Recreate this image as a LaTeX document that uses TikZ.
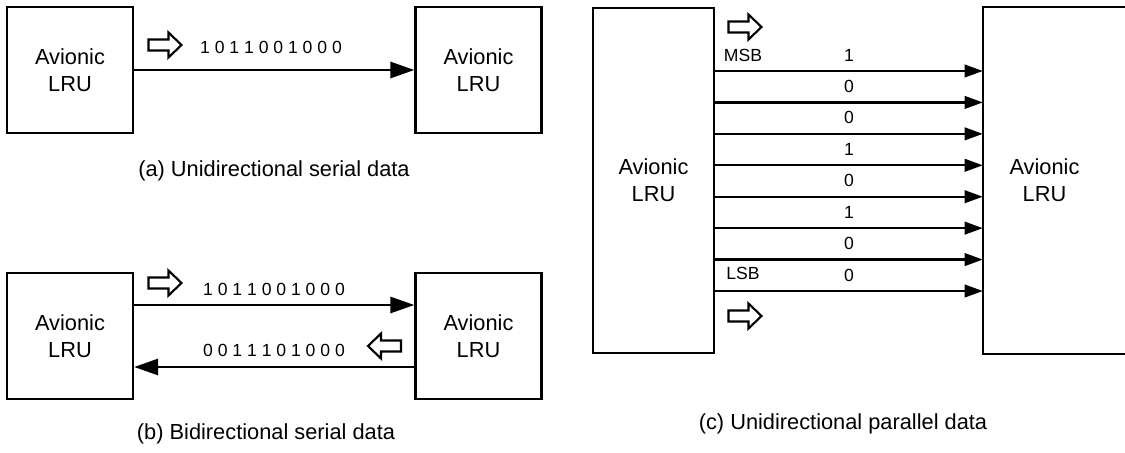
\documentclass[tikz,border=0pt]{standalone}
\usepackage{fontspec}
\setmainfont{Liberation Sans}
\usetikzlibrary{arrows.meta}

\tikzset{
    lru/.style={draw, line width=1.7pt, align=center, inner sep=0pt,
        font=\fontsize{15.5}{19}\selectfont},
    serial/.style={line width=1.6pt, -{Triangle[length=17pt, width=11.5pt]}},
    bus/.style={line width=1.6pt, -{Triangle[length=13pt, width=9pt]}},
    bits/.style={font=\fontsize{12.5}{15}\selectfont},
    small/.style={font=\fontsize{12.5}{15}\selectfont},
    caption/.style={font=\fontsize{15.5}{19}\selectfont},
    hollow/.pic={
        \draw[line width=1.5pt, line join=miter, fill=white]
            (-16.5,-5.5) -- (3.5,-5.5) -- (3.5,-12.5) -- (16.5,0)
            -- (3.5,12.5) -- (3.5,5.5) -- (-16.5,5.5) -- cycle;
    }
}

\begin{document}
\begin{tikzpicture}[x=0.025cm, y=-0.025cm]
        \clip (0,0) rectangle (1125,453);

        % --- 1. Unidirectional serial data ---
        \node[lru, minimum width=3.15cm, minimum height=3.15cm] (la) at (70,70) {Avionic\\LRU};
        \node[lru, minimum width=3.15cm, minimum height=3.15cm] (ra) at (478.5,70) {Avionic\\LRU};
        \draw[serial] (la.east) -- (ra.west);
        \pic at (165,45) {hollow};
        \node[bits] (worda) at (271,47.5) {1 0 1 1 0 0 1 0 0 0};
        \node[caption] (capa) at (274,171) {(a) Unidirectional serial data};

        % --- 2. Bidirectional serial data ---
        \node[lru, minimum width=3.15cm, minimum height=3.15cm] (lb) at (70,336) {Avionic\\LRU};
        \node[lru, minimum width=3.15cm, minimum height=3.15cm] (rb) at (478.5,336) {Avionic\\LRU};
        \draw[serial] (lb.east |- 0,305) -- (rb.west |- 0,305);   % out
        \draw[serial] (rb.west |- 0,367) -- (lb.east |- 0,367);   % back
        \pic at (165,283) {hollow};
        \pic[rotate=180] at (384.5,346) {hollow};
        \node[bits] (wordb) at (274,289) {1 0 1 1 0 0 1 0 0 0};
        \node[bits] (wordc) at (274,350) {0 0 1 1 1 0 1 0 0 0};
        \node[caption] (capb) at (266,434) {(b) Bidirectional serial data};

        % --- 3. Unidirectional parallel data ---
        \node[lru, minimum width=3.025cm, minimum height=8.625cm] (lc) at (653.5,180.5) {Avionic\\LRU};
        \node[lru, draw=none, minimum width=3.025cm, minimum height=8.625cm] (rc) at (1044.5,180.5) {Avionic\\LRU};
        % right box runs off the page
        \coordinate (edge) at (1135,0);
        \draw[line width=1.7pt] (rc.north west -| edge) -- (rc.north west)
            -- (rc.south west) -- (rc.south west -| edge);
        \foreach \b [count=\i] in {1,0,0,1,0,1,0,0} {
            \pgfmathsetmacro{\y}{71+31.43*(\i-1)}
            \draw[bus] (lc.east |- 0,\y) -- (rc.west |- 0,\y);
            \node[small] (bit\i) at (849,\y-16) {\b};
        }
        \node[small] (msb) at (743,55) {MSB};
        \node[small] (lsb) at (743,273) {LSB};
        \pic at (745,27) {hollow};
        \pic at (745,316) {hollow};
        \node[caption] (capc) at (843,424) {(c) Unidirectional parallel data};

    \end{tikzpicture}
\end{document}
